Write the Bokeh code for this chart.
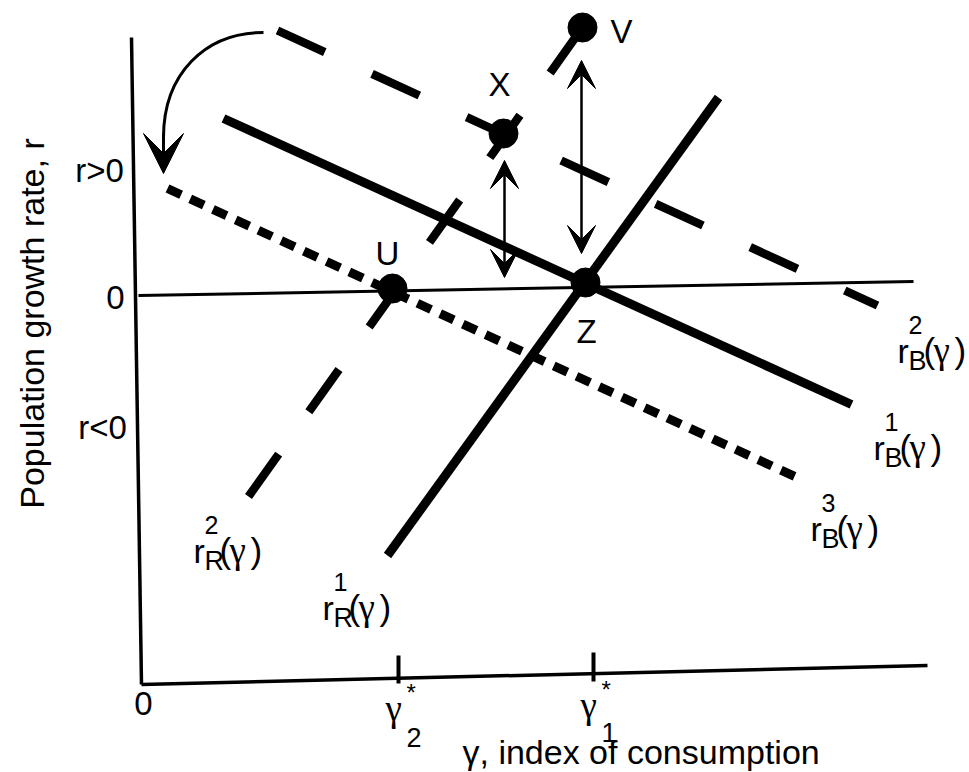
import numpy as np
from bokeh.plotting import figure
from bokeh.models import Range1d, Arrow, VeeHead
from bokeh.core.properties import value
from bokeh.embed import file_html
from bokeh.resources import INLINE

# ---- schematic data (gamma = consumption index, r = growth rate; pixel-scaled units) ----
y_axis_gamma = [-10, 0]
y_axis_r = [258, -389]
x_axis_gamma = [0, 786]
x_axis_r = [-389, -370]
zero_gamma = [-3, 772]
zero_r = [0, 14]

rB1_gamma = [82, 710]
rB1_r = [177, -109]
rR1_gamma = [246, 577]
rR1_r = [-260, 198]
rR2_gamma = [107, 441]
rR2_r = [-201, 268]
rB2_gamma = [136, 736]
rB2_r = [265, -10]
rB3_gamma = [26, 662]
rB3_r = [107, -185]

point_names = ["U", "Z", "X", "V"]
point_gamma = [251, 444, 362, 441]
point_r = [7, 13, 162, 268]
point_label_gamma = [246, 445, 358, 480]
point_label_r = [42, -36, 211, 264]

star_gamma = [257, 452]
star_tick_lo = [-388, -386]
star_tick_hi = [-360, -357]
star_sub = ["2", "1"]

arrow_gamma = [363, 440]
arrow_r_lo = [18, 42]
arrow_r_hi = [135, 235]

line_label_sup = ["2", "1", "3", "2", "1"]
line_label_sub = ["B", "B", "B", "R", "R"]
line_label_gamma = np.array([756, 732, 669, 52, 181])
line_label_r = np.array([-55, -152, -233, -255, -312])

FONT = value("Liberation Sans")
GFONT = value("Liberation Serif")

p = figure(width=969, height=772, output_backend="svg", toolbar_location=None,
           x_range=Range1d(-141, 828), y_range=Range1d(-477, 295),
           x_axis_location=None, y_axis_location=None, min_border=0)
p.grid.visible = False
p.outline_line_color = None
p.background_fill_color = "white"

# frame lines
p.line(y_axis_gamma, y_axis_r, line_color="black", line_width=3.5)
p.line(x_axis_gamma, x_axis_r, line_color="black", line_width=3.5)
p.line(zero_gamma, zero_r, line_color="black", line_width=3)

# ticks
for g, lo, hi in zip(star_gamma, star_tick_lo, star_tick_hi):
    p.line([g, g], [lo, hi], line_color="black", line_width=4)

# curves
p.line(rB1_gamma, rB1_r, line_color="black", line_width=9)
p.line(rR1_gamma, rR1_r, line_color="black", line_width=9)
p.line(rR2_gamma, rR2_r, line_color="black", line_width=8.5, line_dash="52 52")
p.line(rB2_gamma, rB2_r, line_color="black", line_width=8.5, line_dash="52 52")
p.line(rB3_gamma, rB3_r, line_color="black", line_width=9, line_dash="15 10")

# points
p.scatter(point_gamma, point_r, marker="circle", size=29, color="black")

# double arrows
for g, lo, hi in zip(arrow_gamma, arrow_r_lo, arrow_r_hi):
    p.add_layout(Arrow(x_start=g, y_start=lo, x_end=g, y_end=hi, line_width=2.5,
                       start=VeeHead(size=28, fill_color="black", line_color="black", line_width=1),
                       end=VeeHead(size=28, fill_color="black", line_color="black", line_width=1)))

# curved arrow
p.bezier(x0=[122], y0=[263], x1=[22], y1=[158], cx0=[64], cy0=[263], cx1=[22], cy1=[222],
         line_color="black", line_width=3)
p.add_layout(Arrow(x_start=22, y_start=162, x_end=22, y_end=122, line_width=3,
                   end=VeeHead(size=40, fill_color="black", line_color="black", line_width=1)))

# point labels
p.text(point_label_gamma, point_label_r, text=point_names, text_font=FONT,
       text_font_size=value("33px"), text_align="center", text_baseline="middle")

# curve labels r^n_X(gamma)
p.text(line_label_gamma, line_label_r, text=["r"] * 5, text_font=FONT,
       text_font_size=value("34px"), text_align="left", text_baseline="alphabetic")
p.text(line_label_gamma + 11, line_label_r + 26, text=line_label_sup, text_font=FONT,
       text_font_size=value("25px"), text_align="left", text_baseline="alphabetic")
p.text(line_label_gamma + 11, line_label_r - 10, text=line_label_sub, text_font=FONT,
       text_font_size=value("27px"), text_align="left", text_baseline="alphabetic")
p.text(line_label_gamma + 26, line_label_r, text=["("] * 5, text_font=FONT,
       text_font_size=value("35px"), text_align="left", text_baseline="alphabetic")
p.text(line_label_gamma + 36, line_label_r, text=["\u03b3"] * 5, text_font=GFONT,
       text_font_size=value("37px"), text_align="left", text_baseline="alphabetic")
p.text(line_label_gamma + 57, line_label_r, text=[")"] * 5, text_font=FONT,
       text_font_size=value("35px"), text_align="left", text_baseline="alphabetic")

# y-side labels
p.text([-26, -42, -39], [-2, 125, -132], text=["0", "r>0", "r<0"], text_font=FONT,
       text_font_size=value("33px"), text_align="center", text_baseline="middle")
p.text([-110], [-28], text=["Population growth rate, r"], angle=np.pi / 2, text_font=FONT,
       text_font_size=value("34px"), text_align="center", text_baseline="middle")

# x-side labels
p.text([2], [-408], text=["0"], text_font=FONT, text_font_size=value("33px"),
       text_align="center", text_baseline="middle")
sg = np.array(star_gamma)
p.text(sg - 13, [-413, -410], text=["\u03b3", "\u03b3"], text_font=GFONT,
       text_font_size=value("37px"), text_align="left", text_baseline="alphabetic")
p.text(sg + 8, [-397, -394], text=["*", "*"], text_font=FONT,
       text_font_size=value("24px"), text_align="left", text_baseline="alphabetic")
p.text(sg + 8, [-442, -437], text=star_sub, text_font=FONT,
       text_font_size=value("27px"), text_align="left", text_baseline="alphabetic")
p.text([321], [-456], text=["\u03b3, index of consumption"], text_font=FONT,
       text_font_size=value("34px"), text_align="left", text_baseline="alphabetic")

open("out.html", "w").write(file_html(p, INLINE))
